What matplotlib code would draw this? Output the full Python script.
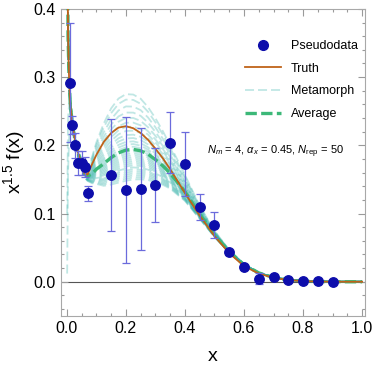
import numpy as np
import matplotlib
matplotlib.use("Agg")
import matplotlib.pyplot as plt
from matplotlib.ticker import MultipleLocator, FormatStrFormatter
from matplotlib.lines import Line2D

plt.rcParams['font.family'] = ['Liberation Sans', 'DejaVu Sans']
plt.rcParams['mathtext.fontset'] = 'custom'
plt.rcParams['mathtext.rm'] = 'Liberation Sans'
plt.rcParams['mathtext.it'] = 'Liberation Sans:italic'
plt.rcParams['mathtext.bf'] = 'Liberation Sans:bold'
plt.rcParams['mathtext.fallback'] = 'stixsans'

# ---- data ----
data_x = [0.009, 0.019, 0.028, 0.038, 0.05, 0.06, 0.07, 0.15, 0.2, 0.25, 0.3, 0.35,
          0.4, 0.45, 0.5, 0.55, 0.6, 0.65, 0.7, 0.75, 0.8, 0.85, 0.9]
data_y = [0.292, 0.230, 0.200, 0.174, 0.174, 0.168, 0.130, 0.157, 0.135, 0.136, 0.142, 0.204,
          0.173, 0.109, 0.083, 0.043, 0.021, 0.0044, 0.0065, 0.003, 0.0012, 0.0006, 0.0002]
data_err = [0.087, 0.013, 0.018, 0.018, 0.018, 0.015, 0.011, 0.082, 0.107, 0.089, 0.054, 0.045,
            0.047, 0.019, 0.019, 0.004, 0.003, 0.008, 0.002, 0.002, 0.001, 0.001, 0.001]

grid_x = [0.001, 0.004, 0.008, 0.012, 0.02, 0.03, 0.04, 0.05, 0.06, 0.07, 0.085, 0.1,
          0.125, 0.15, 0.175, 0.2, 0.225, 0.25, 0.275, 0.3, 0.325, 0.35, 0.4, 0.45,
          0.5, 0.55, 0.6, 0.65, 0.7, 0.75, 0.8, 0.85, 0.9, 0.95, 1.0]
truth_y = [0.60, 0.36, 0.29, 0.258, 0.226, 0.202, 0.186, 0.172, 0.159, 0.157, 0.172, 0.186,
           0.205, 0.218, 0.226, 0.228, 0.225, 0.218, 0.208, 0.195, 0.181, 0.165, 0.130, 0.097,
           0.067, 0.042, 0.023, 0.012, 0.0058, 0.0025, 0.001, 0.0003, 0.0001, 0.0, 0.0]
average_y = [0.60, 0.36, 0.29, 0.258, 0.226, 0.202, 0.185, 0.171, 0.158, 0.155, 0.158, 0.165,
             0.173, 0.182, 0.189, 0.193, 0.194, 0.192, 0.187, 0.179, 0.170, 0.159, 0.132, 0.099,
             0.069, 0.044, 0.025, 0.013, 0.0062, 0.0028, 0.0012, 0.0004, 0.0001, 0.0, 0.0]
# relative spread of the metamorph band around the average (1 at the bump peak)
spread_shape = [0.08, 0.08, 0.08, 0.08, 0.08, 0.08, 0.08, 0.09, 0.11, 0.16, 0.30, 0.48,
                0.72, 0.88, 0.97, 1.0, 0.98, 0.93, 0.84, 0.74, 0.62, 0.50, 0.30, 0.15,
                0.07, 0.03, 0.01, 0.0, 0.0, 0.0, 0.0, 0.0, 0.0, 0.0, 0.0]
# deviation of each metamorph from the average at the bump peak
metamorph_dev = [0.082, 0.074, 0.064, 0.055, 0.047, 0.040, 0.034, 0.028, 0.022, 0.017,
                 0.012, 0.008, 0.004, 0.0, -0.003, -0.006, -0.009, -0.012, -0.015, -0.018,
                 -0.021, -0.024, -0.027, -0.030, -0.033, -0.036, -0.039, -0.042, -0.045]
# two metamorphs that turn down near x -> 0 (first six grid points)
lowx_variant_a = [0.012, 0.16, 0.215, 0.222, 0.215, 0.198]
lowx_variant_b = [0.10, 0.24, 0.262, 0.25, 0.225, 0.200]

# ---- figure ----
fig = plt.figure(figsize=(3.74, 3.69), dpi=100)
ax = fig.add_axes([0.163, 0.144, 0.813, 0.832])

gx = np.array(grid_x)
avg = np.array(average_y)
shp = np.array(spread_shape)
meta_color = '#30b0a8'
for i, d in enumerate(metamorph_dev):
    y = avg + d * shp
    if i == 5:
        y[:6] = lowx_variant_a
    if i == 22:
        y[:6] = lowx_variant_b
    ax.plot(gx, y, color=meta_color, alpha=0.3, lw=1.3, dashes=(5, 2.2), zorder=2)

ax.axhline(0, color='#555555', lw=0.8, zorder=1)

ax.plot(gx, average_y, color='#3cb878', lw=2.4, dashes=(3.4, 1.3), zorder=3)
ax.plot(gx, truth_y, color='#bf6319', lw=1.3, zorder=4)

ax.errorbar(data_x, data_y, yerr=data_err, fmt='none', ecolor='#6b6bdc', elinewidth=0.9,
            capsize=3, capthick=0.9, zorder=5)
ax.plot(data_x, data_y, 'o', color='#0d0dab', ms=6.8, mec='#0d0dab', zorder=6)

ax.set_xlim(-0.02, 1.01)
ax.set_ylim(-0.05, 0.4)
ax.xaxis.set_major_locator(MultipleLocator(0.2))
ax.xaxis.set_minor_locator(MultipleLocator(0.05))
ax.yaxis.set_major_locator(MultipleLocator(0.1))
ax.yaxis.set_minor_locator(MultipleLocator(0.02))
ax.xaxis.set_major_formatter(FormatStrFormatter('%.1f'))
ax.yaxis.set_major_formatter(FormatStrFormatter('%.1f'))
ax.tick_params(which='both', direction='in', top=True, right=True, color='#9a9a9a',
               labelsize=11.5, width=0.8, pad=4)
ax.tick_params(which='major', length=5)
ax.tick_params(which='minor', length=2.5)
for s in ax.spines.values():
    s.set_color('#a8a8a8')
    s.set_linewidth(0.8)

ax.set_xlabel('x', fontsize=14, labelpad=8)
ax.set_ylabel(r'x$^{1.5}$ f(x)', fontsize=14, labelpad=4)

ax.text(0.475, 0.19, r'$N_m$ = 4, $\alpha_x$ = 0.45, $N_{\rm rep}$ = 50', fontsize=8,
        va='center', ha='left', zorder=7)

handles = [
    Line2D([], [], ls='none', marker='o', color='#0d0dab', ms=7),
    Line2D([], [], color='#bf6319', lw=1.3),
    Line2D([], [], color=meta_color, alpha=0.3, lw=1.3, dashes=(5, 2.2)),
    Line2D([], [], color='#3cb878', lw=2.4, dashes=(3.4, 1.3)),
]
ax.legend(handles, ['Pseudodata', 'Truth', 'Metamorph', 'Average'], loc='upper left',
          bbox_to_anchor=(0.605, 0.898), frameon=False, fontsize=9, handlelength=2.9,
          labelspacing=0.85, handletextpad=0.75, borderpad=0, borderaxespad=0)

fig.savefig('out.png', dpi=100)
